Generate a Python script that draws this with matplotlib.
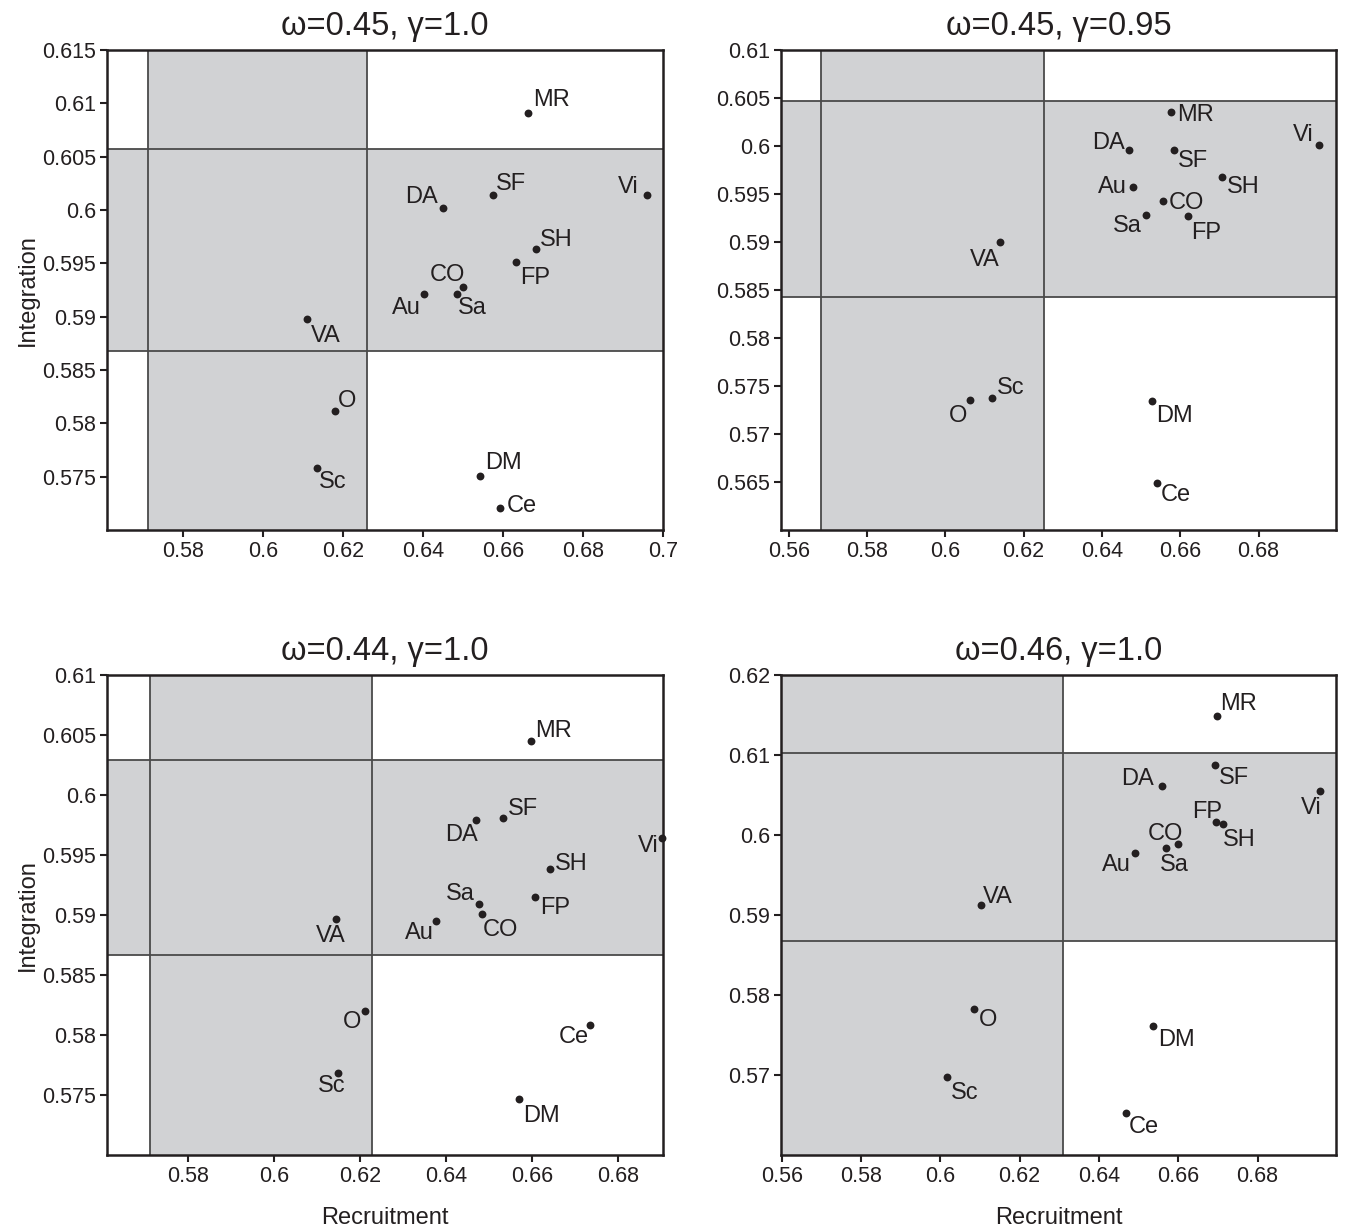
import matplotlib
matplotlib.use("Agg")
import matplotlib.pyplot as plt

plt.rcParams['font.family'] = ['Liberation Sans', 'DejaVu Sans']

# ---------------- data ----------------
labels = ["MR", "SF", "DA", "Vi", "SH", "FP", "CO", "Sa", "Au", "DM", "Ce", "VA", "O", "Sc"]

titles = ["ω=0.45, γ=1.0", "ω=0.45, γ=0.95", "ω=0.44, γ=1.0", "ω=0.46, γ=1.0"]

recruit_a = [0.6663, 0.6574, 0.6450, 0.6959, 0.6682, 0.6633, 0.6501, 0.6484, 0.6402, 0.6543, 0.6592, 0.6109, 0.6180, 0.6134]
integr_a = [0.6091, 0.6014, 0.6002, 0.6014, 0.5963, 0.5951, 0.5928, 0.5921, 0.5921, 0.5751, 0.5721, 0.5898, 0.5812, 0.5758]

recruit_b = [0.6576, 0.6583, 0.6470, 0.6954, 0.6707, 0.6620, 0.6556, 0.6513, 0.6479, 0.6527, 0.6540, 0.6139, 0.6062, 0.6120]
integr_b = [0.6035, 0.5996, 0.5996, 0.6001, 0.5968, 0.5927, 0.5943, 0.5928, 0.5957, 0.5734, 0.5649, 0.5900, 0.5735, 0.5738]

recruit_c = [0.6598, 0.6533, 0.6470, 0.6902, 0.6642, 0.6607, 0.6484, 0.6477, 0.6376, 0.6570, 0.6734, 0.6143, 0.6211, 0.6148]
integr_c = [0.6045, 0.5981, 0.5979, 0.5964, 0.5938, 0.5915, 0.5901, 0.5909, 0.5895, 0.5747, 0.5808, 0.5897, 0.5820, 0.5768]

recruit_d = [0.6698, 0.6692, 0.6558, 0.6958, 0.6712, 0.6696, 0.6600, 0.6568, 0.6491, 0.6537, 0.6468, 0.6103, 0.6085, 0.6017]
integr_d = [0.6149, 0.6087, 0.6061, 0.6055, 0.6014, 0.6016, 0.5989, 0.5984, 0.5977, 0.5761, 0.5653, 0.5912, 0.5783, 0.5698]

# threshold bands (recruitment range, integration range)
band_x = [(0.5712, 0.6261), (0.5681, 0.6251), (0.5712, 0.6227), (0.540, 0.6310)]
band_y = [(0.5868, 0.6057), (0.5843, 0.6047), (0.5867, 0.6029), (0.5867, 0.6103)]

xticks = [[0.58, 0.60, 0.62, 0.64, 0.66, 0.68, 0.70],
          [0.56, 0.58, 0.60, 0.62, 0.64, 0.66, 0.68],
          [0.58, 0.60, 0.62, 0.64, 0.66, 0.68],
          [0.56, 0.58, 0.60, 0.62, 0.64, 0.66, 0.68]]
yticks = [[0.575, 0.58, 0.585, 0.59, 0.595, 0.60, 0.605, 0.61, 0.615],
          [0.565, 0.57, 0.575, 0.58, 0.585, 0.59, 0.595, 0.60, 0.605, 0.61],
          [0.575, 0.58, 0.585, 0.59, 0.595, 0.60, 0.605, 0.61],
          [0.57, 0.58, 0.59, 0.60, 0.61, 0.62]]

# ---------------- layout / style ----------------
xlims = [(0.561, 0.700), (0.558, 0.6998), (0.5612, 0.6904), (0.5598, 0.6998)]
ylims = [(0.570, 0.615), (0.560, 0.610), (0.570, 0.610), (0.560, 0.620)]

W, H = 1347, 1232
boxes = [(107, 50, 663, 530), (781, 50, 1336, 530), (107, 675, 663, 1155), (781, 675, 1336, 1155)]

# label placement: (ha, dx_px, dy_px baseline offset)
place = [
    {"MR": ("left", 4.7, 6.6), "SF": ("left", 3.3, 5.4), "DA": ("right", -4.7, 4.4), "Vi": ("right", -8.3, 2),
     "SH": ("left", 3.6, 3.3), "FP": ("left", 4.3, -21.7), "CO": ("right", 1.7, 5.7), "Sa": ("left", 1.6, -19.3),
     "Au": ("right", -2.7, -19.3), "DM": ("left", 5.3, 6.4), "Ce": ("left", 7.3, -4.4), "VA": ("left", 4.7, -23.4),
     "O": ("left", 2.4, 4), "Sc": ("left", 2.3, -20)},
    {"MR": ("left", 6, -9), "SF": ("left", 4, -17.3), "DA": ("right", -4.7, 0.7), "Vi": ("right", -5.6, 4.3),
     "SH": ("left", 5, -16), "FP": ("left", 3, -22.7), "CO": ("left", 5.3, -8.7), "Sa": ("right", -4.3, -17),
     "Au": ("right", -5.6, -5.6), "DM": ("left", 4.3, -20.4), "Ce": ("left", 4.3, -18.4), "VA": ("right", 0.3, -24.4),
     "O": ("right", -2.6, -21.7), "Sc": ("left", 4.7, 3.7)},
    {"MR": ("left", 4.3, 4), "SF": ("left", 4.7, 2.7), "DA": ("right", 1.7, -21), "Vi": ("right", -3.4, -14),
     "SH": ("left", 4.3, -1), "FP": ("left", 4.6, -17.3), "CO": ("left", 0.7, -22.7), "Sa": ("right", -4, 4),
     "Au": ("right", -2, -17.7), "DM": ("left", 4, -23.7), "Ce": ("right", -1, -17.7), "VA": ("right", 9.7, -23.4),
     "O": ("right", -3.3, -17), "Sc": ("right", 7.7, -18.4)},
    {"MR": ("left", 3.3, 5.7), "SF": ("left", 4.4, -19), "DA": ("right", -8, 1.4), "Vi": ("right", 1, -23.3),
     "SH": ("left", 0.4, -21.7), "FP": ("right", 5.7, 4.4), "CO": ("right", 4.7, 4), "Sa": ("left", -6, -23),
     "Au": ("right", -4, -17.7), "DM": ("left", 5, -20), "Ce": ("left", 3.3, -20.4), "VA": ("left", 1.3, 2.6),
     "O": ("left", 5, -17), "Sc": ("left", 3.7, -22.3)},
]

gray = "#d1d2d4"
edge = "#4a4a4a"
ink = "#231f20"
fs_tick = 15.5
fs_pt = 17
fs_lab = 17
fs_title = 23.5

xs = [recruit_a, recruit_b, recruit_c, recruit_d]
ys = [integr_a, integr_b, integr_c, integr_d]

fig = plt.figure(figsize=(W / 100, H / 100), dpi=100)

for i in range(4):
    l, t, r, b = boxes[i]
    ax = fig.add_axes([l / W, 1 - b / H, (r - l) / W, (b - t) / H])
    ax.set_xlim(*xlims[i])
    ax.set_ylim(*ylims[i])

    ax.axvspan(band_x[i][0], band_x[i][1], color=gray, lw=0, zorder=0)
    ax.axhspan(band_y[i][0], band_y[i][1], color=gray, lw=0, zorder=0)
    for v in band_x[i]:
        ax.axvline(v, color=edge, lw=1.3, zorder=1)
    for v in band_y[i]:
        ax.axhline(v, color=edge, lw=1.3, zorder=1)

    ax.scatter(xs[i], ys[i], s=32, color=ink, zorder=3, linewidths=0, clip_on=False)
    for j, name in enumerate(labels):
        ha, dx, dy = place[i][name]
        ax.annotate(name, (xs[i][j], ys[i][j]), xytext=(dx, dy), textcoords="offset pixels",
                    ha=ha, va="baseline", fontsize=fs_pt, color=ink, zorder=4)

    ax.set_xticks(xticks[i])
    ax.set_xticklabels([f"{v:g}" for v in xticks[i]])
    ax.set_yticks(yticks[i])
    ax.set_yticklabels([f"{v:g}" for v in yticks[i]])
    ax.tick_params(direction="out", length=5, width=1.5, labelsize=fs_tick, colors=ink, pad=3)
    for sp in ax.spines.values():
        sp.set_linewidth(1.8)
        sp.set_color(ink)
        sp.set_zorder(5)

    ax.set_title(titles[i], fontsize=fs_title, color=ink, pad=11)
    if i in (0, 2):
        ax.set_ylabel("Integration", fontsize=fs_lab, color=ink, labelpad=2)
    if i in (2, 3):
        ax.set_xlabel("Recruitment", fontsize=fs_lab, color=ink, labelpad=14)

fig.savefig("out.png", dpi=100)
